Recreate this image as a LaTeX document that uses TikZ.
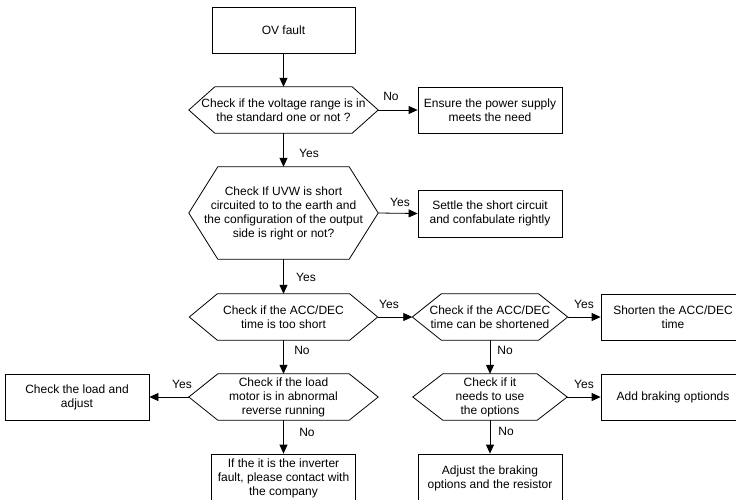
\documentclass[tikz,border=0pt]{standalone}
\usepackage{fontspec}
\setmainfont{Liberation Sans}
\usetikzlibrary{arrows.meta}
\begin{document}
\begin{tikzpicture}[x=1pt,y=-1pt,
  font=\fontsize{12}{14}\selectfont,
  box/.style={draw, line width=0.8pt, minimum width=144pt, minimum height=46pt, inner sep=0pt, align=center},
  hexn/.style={minimum height=46pt, inner sep=0pt, align=center},
  hexline/.style={line width=0.8pt},
  lbl/.style={inner sep=0pt},
  arr/.style={-{Triangle[length=9pt,width=8pt]}, line width=0.8pt}]
\useasboundingbox (0,0) rectangle (736,499);
\clip (0,0) rectangle (736,499);
\fill[white] (0,0) rectangle (736,499);

% boxes
\node[box, minimum width=143pt] (ov) at (283.5,30) {OV fault};
\node[box] (ensure) at (490,110) {Ensure the power supply\\meets the need};
\node[box, minimum height=47pt] (settle) at (490,213.5) {Settle the short circuit\\and confabulate rightly};
\node[box] (shorten) at (673,317) {Shorten the ACC/DEC\\time};
\node[box] (load) at (77,397) {Check the load and\\adjust};
\node[box] (add) at (673,397) {Add braking optionds};
\node[box, minimum height=48pt] (inv) at (283.5,478) {If the it is the inverter\\fault, please contact with\\the company};
\node[box, minimum height=48pt] (adj) at (490,478) {Adjust the braking\\options and the resistor};

% hexagon decision nodes
\node[hexn, minimum width=189pt] (h1) at (283.5,110) {Check if the voltage range is in\\the standard one or not ?};
\node[hexn, minimum width=189pt, minimum height=92pt] (h2) at (283.5,213) {Check If UVW is short\\circuited to to the earth and\\the configuration of the output\\side is right or not?};
\node[hexn, minimum width=188pt] (h3) at (283.5,317) {Check if the ACC/DEC\\time is too short};
\node[hexn, minimum width=155pt] (h4) at (490,317) {Check if the ACC/DEC\\time can be shortened};
\node[hexn, minimum width=189pt] (h5) at (283.5,397) {Check if the load\\motor is in abnormal\\reverse running};
\node[hexn, minimum width=154pt] (h6) at (490,397) {Check if it\\needs to use\\the options};

\foreach \n/\s in {h1/26, h2/29, h3/28, h4/29, h5/29, h6/30}{
  \draw[hexline] (\n.west) -- ([xshift=\s pt]\n.north west) -- ([xshift=-\s pt]\n.north east)
    -- (\n.east) -- ([xshift=-\s pt]\n.south east) -- ([xshift=\s pt]\n.south west) -- cycle;
}

% connectors
\draw[arr] (ov.south) -- (h1.north);
\draw[arr] (h1.east) -- (ensure.west);
\draw[arr] (h1.south) -- (h2.north);
\draw[arr] (h2.east) -- (settle.west);
\draw[arr] (h2.south) -- (h3.north);
\draw[arr] (h3.east) -- (h4.west);
\draw[arr] (h4.east) -- (shorten.west);
\draw[arr] (h3.south) -- (h5.north);
\draw[arr] (h4.south) -- (h6.north);
\draw[arr] (h5.west) -- (load.east);
\draw[arr] (h6.east) -- (add.west);
\draw[arr] (h5.south) -- (inv.north);
\draw[arr] (h6.south) -- (adj.north);

% labels
\node[lbl] (l1) at (391,96) {No};
\node[lbl] (l2) at (309,153) {Yes};
\node[lbl] (l3) at (400,202) {Yes};
\node[lbl] (l4) at (306,277) {Yes};
\node[lbl] (l5) at (389,304) {Yes};
\node[lbl] (l6) at (302,350) {No};
\node[lbl] (l7) at (584,304) {Yes};
\node[lbl] (l8) at (505,350) {No};
\node[lbl] (l9) at (182,384) {Yes};
\node[lbl] (l10) at (307,432) {No};
\node[lbl] (l11) at (584,384) {Yes};
\node[lbl] (l12) at (506,431) {No};
\end{tikzpicture}
\end{document}
